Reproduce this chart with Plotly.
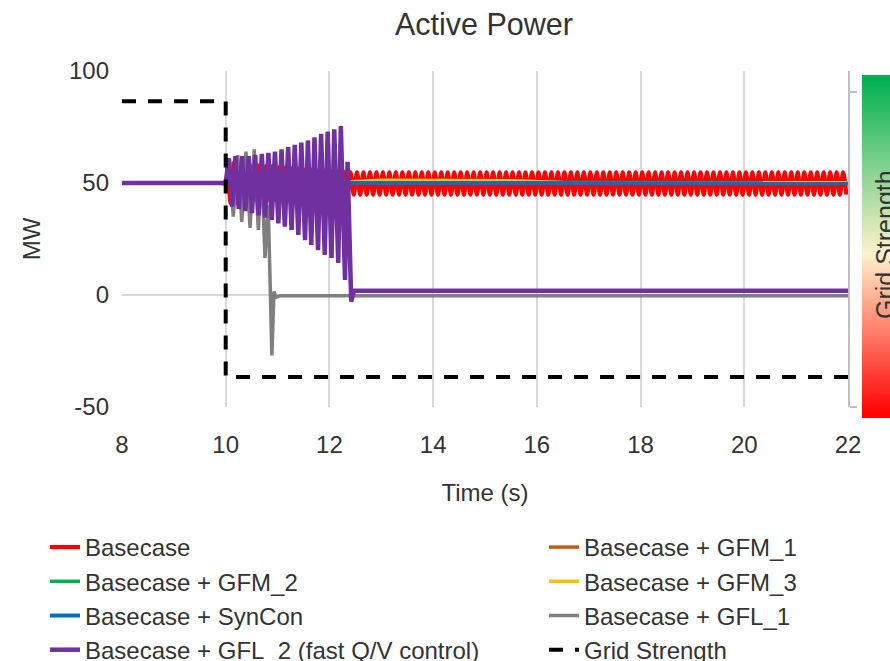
import plotly.graph_objects as go

# ---------------- data ----------------
x_ticks = [8, 10, 12, 14, 16, 18, 20, 22]
y_ticks = [-50, 0, 50, 100]
y_tick_text = ["-50", "0", "50", "100"]

# Basecase (red): flat, then oscillation around 50 MW
red_pre_t = [8.0, 9.0, 9.8, 9.9, 10.0]
red_pre_p = [50.0, 50.0, 50.0, 50.0, 50.0]
red_period = 0.125
red_tr_start = 10.0
red_tr_hi = [59, 59, 58.5, 58.5, 58, 58, 57.5, 57.5, 57, 57, 56.5, 56.5, 56, 56, 55.5, 55.5, 55, 55, 55]
red_tr_lo = [41, 41, 41.5, 41.5, 42, 42, 42.5, 42.5, 43, 43, 43.5, 43.5, 44, 44, 44.5, 44.5, 44.8, 44.8, 44.8]
red_ss_start = 12.375
red_ss_hi = [54.8] * 77
red_ss_lo = [44.8] * 77

# GFM / SynCon (hidden in the transient, ~50 MW afterwards)
gfm1_t = [8.0, 10.0, 12.45, 22.0]
gfm1_p = [50.0, 50.0, 50.0, 50.0]
gfm2_t = [8.0, 10.0, 12.45, 13.8, 14.2, 14.6, 22.0]
gfm2_p = [50.0, 50.0, 50.2, 50.4, 51.2, 50.3, 50.1]
gfm3_t = [8.0, 10.0, 12.45, 13.0, 15.5, 16.5, 22.0]
gfm3_p = [50.0, 50.0, 50.6, 51.2, 51.0, 50.2, 50.1]
syncon_t = [8.0, 10.0, 12.45, 22.0]
syncon_p = [50.0, 50.0, 49.9, 49.9]

# GFL_1 (grey)
gfl1_t = [8.0, 10.0, 10.07, 10.146, 10.23, 10.31, 10.39, 10.47, 10.55, 10.63, 10.69, 10.757,
          10.82, 10.89, 10.93, 10.97, 11.05, 22.0]
gfl1_p = [50, 50, 61, 35, 62.5, 32.6, 64, 30, 65, 29, 60, 16.5,
          40, -27, 1.5, -1.0, -0.3, -0.3]

# GFL_2 (purple, fast Q/V control)
gfl2_t = [8.0, 10.0, 10.061, 10.125, 10.188, 10.252, 10.315, 10.379, 10.442, 10.506, 10.569,
          10.633, 10.696, 10.760, 10.823, 10.887, 10.950, 11.015, 11.077, 11.140, 11.204,
          11.270, 11.331, 11.400, 11.458, 11.530, 11.585, 11.650, 11.712, 11.780, 11.839,
          11.910, 11.966, 12.040, 12.093, 12.170, 12.220, 12.300, 12.350, 12.420, 12.470, 22.0]
gfl2_p = [50, 50, 61, 39.5, 62, 38.5, 62, 37.5, 62, 36.5, 62.5,
          35.5, 63, 34.5, 63.5, 33.5, 64, 32, 65, 30.5, 66,
          29, 67, 26.8, 68, 24.5, 69, 22.3, 70.4, 20, 72,
          17.9, 73, 16.5, 74, 14.3, 75.4, 6.7, 59.5, -3, 1.9, 1.9]

# Grid strength (secondary axis, relative units)
gs_t = [8.0, 10.0, 10.0, 22.0]
gs_v = [0.971, 0.971, 0.095, 0.095]

# Grid-strength colour bar
gs_bar_levels = [i / 60 for i in range(61)]
gs_bar_scale = [[0.0, "#FF0000"], [0.48, "#FFF2CC"], [1.0, "#00B050"]]


def zigzag(t_start, period, highs, lows):
    ts, ps = [], []
    for i, (h, l) in enumerate(zip(highs, lows)):
        ts += [t_start + period * (i + 0.25), t_start + period * (i + 0.75)]
        ps += [h, l]
    return ts, ps


tr_t, tr_p = zigzag(red_tr_start, red_period, red_tr_hi, red_tr_lo)
ss_t, ss_p = zigzag(red_ss_start, red_period, red_ss_hi, red_ss_lo)
red_t = red_pre_t + tr_t + ss_t
red_p = red_pre_p + tr_p + ss_p

# ---------------- figure ----------------
FONT = "Liberation Sans, Arial, sans-serif"
TXT = "#333333"
GRID = "#D9D9D9"

W, H = 890, 661
L, T = 122, 71
plot_right, plot_bottom, paper_bottom = 848, 407, 430
pw = W - L
ph = paper_bottom - T

fig = go.Figure()

series = [
    ("Basecase", red_t, red_p, "#FF0000", 4.2, "spline", "legend"),
    ("Basecase + GFM_1", gfm1_t, gfm1_p, "#C55A11", 3.5, "linear", "legend2"),
    ("Basecase + GFM_2", gfm2_t, gfm2_p, "#00B050", 3.5, "linear", "legend"),
    ("Basecase + GFM_3", gfm3_t, gfm3_p, "#FFC000", 3.5, "linear", "legend2"),
    ("Basecase + SynCon", syncon_t, syncon_p, "#0070C0", 4, "linear", "legend"),
    ("Basecase + GFL_1", gfl1_t, gfl1_p, "#7F7F7F", 3.5, "linear", "legend2"),
    ("Basecase + GFL_2 (fast Q/V control)", gfl2_t, gfl2_p, "#7030A0", 4.5, "linear", "legend"),
]
for name, t, p, col, wd, shp, lg in series:
    fig.add_trace(go.Scatter(x=t, y=p, mode="lines", name=name, legend=lg,
                             line=dict(color=col, width=wd, shape=shp, smoothing=0.8),
                             hoverinfo="skip"))

fig.add_trace(go.Scatter(x=gs_t, y=gs_v, yaxis="y2", mode="lines", name="Grid Strength",
                         legend="legend2",
                         line=dict(color="black", width=4, dash="14px,12px"), hoverinfo="skip"))

fig.add_trace(go.Heatmap(z=[[v, v] for v in gs_bar_levels], x=[0, 1], y=gs_bar_levels,
                         xaxis="x3", yaxis="y3", colorscale=gs_bar_scale, showscale=False,
                         zsmooth="best", hoverinfo="skip", zmin=0, zmax=1))

legend_top = (paper_bottom - 525) / ph

fig.update_layout(
    width=W, height=H,
    margin=dict(l=L, r=0, t=T, b=H - paper_bottom, autoexpand=False),
    paper_bgcolor="white", plot_bgcolor="white",
    font=dict(family=FONT, color=TXT, size=24),
    title=dict(text="Active Power", x=484 / W, xref="container", xanchor="center",
               y=1 - 24 / H, yref="container", yanchor="middle",
               font=dict(size=30.5, color=TXT, family=FONT)),
    xaxis=dict(domain=[0, (plot_right - L) / pw], range=[8, 22], tickvals=x_ticks,
               showgrid=True, gridcolor=GRID, gridwidth=2, zeroline=False, showline=False,
               ticks="", ticklabelstandoff=21, tickfont=dict(size=24),
               title=dict(text="Time (s)", standoff=27, font=dict(size=24))),
    yaxis=dict(domain=[(paper_bottom - plot_bottom) / ph, 1], range=[-50, 100],
               tickvals=y_ticks, ticktext=y_tick_text,
               showgrid=True, gridcolor=GRID, gridwidth=2, zeroline=False, showline=False,
               ticks="", ticklabelstandoff=12, tickfont=dict(size=24),
               title=dict(text="MW", standoff=21, font=dict(size=24))),
    yaxis2=dict(overlaying="y", side="right", range=[0, 1.0667], tickvals=[0, 1],
                showticklabels=False, ticks="outside", ticklen=7, tickwidth=2,
                tickcolor="#BFBFBF", showline=True, linecolor="#BFBFBF", linewidth=2,
                showgrid=False, zeroline=False),
    xaxis3=dict(domain=[(862 - L) / pw, 1], anchor="y3", visible=False, fixedrange=True),
    yaxis3=dict(domain=[(paper_bottom - 418) / ph, (paper_bottom - 75) / ph], anchor="x3",
                visible=False, fixedrange=True),
    legend=dict(x=(45 - L) / pw, xanchor="left", y=legend_top, yanchor="top",
                orientation="v", font=dict(size=24, color=TXT, family=FONT),
                bgcolor="rgba(0,0,0,0)", itemwidth=30),
    legend2=dict(x=(544 - L) / pw, xanchor="left", y=legend_top, yanchor="top",
                 orientation="v", font=dict(size=24, color=TXT, family=FONT),
                 bgcolor="rgba(0,0,0,0)", itemwidth=30),
    annotations=[dict(text="Grid Strength", textangle=-90, xref="paper", yref="paper",
                      x=(885 - L) / pw, y=(paper_bottom - 245) / ph, xanchor="center",
                      yanchor="middle", showarrow=False,
                      font=dict(size=25, color=TXT, family=FONT))],
)

fig.write_html("out.html")
